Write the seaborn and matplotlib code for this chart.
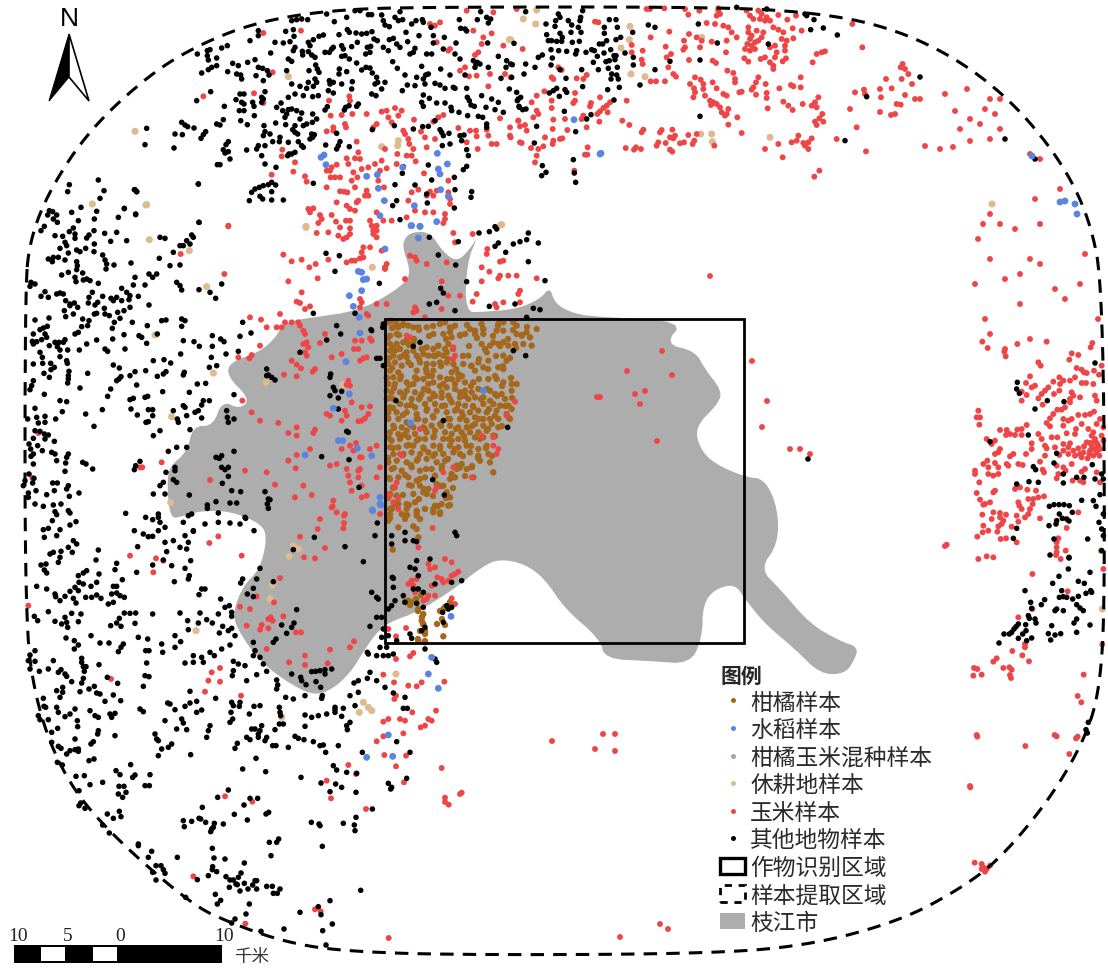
import matplotlib
matplotlib.use("Agg")
import matplotlib.pyplot as plt
import seaborn as sns
import pandas as pd
from matplotlib.lines import Line2D
from matplotlib.patches import Patch, Polygon, Rectangle

# ---- sample readings, grouped by map sheet; each sheet has its own origin (x0, y0) and is read at 3 units per map unit
SHEET_NW = (120, 0)
black_nw = [(515,65),(530,62),(545,60),(563,62),(620,45),(643,68),(680,55),(705,35),(720,35),(745,47),(755,47),(785,48),(790,65),(795,78),(808,83),(825,55),(835,65),(840,38),(848,62),(875,75),(888,65),(907,62),(910,70),(933,85),(1018,62),(1022,88),(1035,90),(1040,96),(1072,62),(1082,38),(1100,55),(1112,60),(1105,72),
(390,125),(415,95),(415,110),(497,97),(520,92),(522,112),(465,130),(490,132),(510,128),(525,145),(520,155),(547,157),(548,168),(565,130),(580,122),(597,112),(610,108),(657,107),(682,92),(688,100),(708,102),(725,105),(740,103),(756,98),(762,120),(772,125),(808,122),(820,118),(858,100),(863,128),(897,110),(940,110),(940,132),(973,115),(1008,132),(1103,132),
(232,165),(262,155),(270,152),(262,170),(265,183),(290,177),(305,147),(322,140),(452,162),(505,180),(515,187),(570,140),(565,158),(575,168),(585,175),(615,160),(628,160),(635,150),(640,145),(665,140),(670,150),(675,170),(695,143),(712,130),(742,145),(752,142),(737,165),(750,160),(790,145),(805,155),(830,135),(840,145),(885,148),(880,160),(870,165),(920,165),(935,165),(970,150),(1005,165),(1020,180),
(245,222),(265,212),(275,205),(290,200),(323,218),(338,193),(355,200),(350,225),(362,228),(365,240),(383,190),(405,182),(415,205),(428,208),(408,230),(442,215),(447,228),(430,245),(500,215),(567,215),(587,198),(592,210),(597,220),(658,210),(657,225),(680,218),(710,192),(725,213),(738,205),(750,207),(757,222),(770,235),(773,250),(795,250),(765,255),(785,270),(688,180),(665,172),(818,188),(832,208),(855,228),(905,202),(890,235),(910,240),(917,228),(925,225),(915,255),(962,210),(945,253),(960,258),(975,268),(990,228),(1000,265),(1005,268),(1035,228),(1040,268),(1060,185),(1068,195),(1072,190),(1065,205),(1080,195),(1105,205),(1135,172),(1160,185),(1158,205),(1172,195),(1143,238),(1168,270),(1195,300),
(272,278),(230,305),(313,322),(348,302),(360,285),(372,285),(365,310),(372,315),(358,335),(372,335),(398,310),(402,322),(403,350),(425,295),(435,278),(430,300),(425,310),(505,295),(483,312),(525,285),(540,262),(560,268),(565,250),(585,240),(590,250),(515,255),(580,262),(628,245),(630,255),(640,250),(665,255),(697,248),(695,270),(625,275),(640,282),(550,290),(578,293),(595,290),(755,285),(768,290),(847,275),(862,258),(885,260),(910,288),(928,298),(905,310),(910,322),(950,312),(975,312),(993,325),(995,335),(1017,340),(1042,295),(1048,305),(1053,318),(1063,322),(1085,290),(1098,325),(1115,300),(1135,310),(1125,332),(1150,340),(1197,322),(1043,350),(1075,352),(1088,355),
(470,325),(488,335),(505,332),(515,330),(530,335),(545,342),(500,345),(495,355),(540,360),(578,345),(590,360),(577,370),(615,333),(622,323),(677,325),(687,320),(673,333),(715,315),(710,322),(310,362),(300,378),(290,375),(185,370),(195,378),(203,383),(222,387),(80,388),(165,405),(187,407),(257,398),(250,407),(243,418),(75,437),(162,447),(362,365),(382,377),(432,380),(467,372),(497,377),(525,380),(550,380),(560,375),(518,392),(525,400),(533,405),(435,398),(450,405),(430,410),(575,405),(583,407),(570,420),(578,415),(650,403),(660,428),(655,440),(650,450),(617,438),(688,443),(757,392),(823,380),(880,390),(908,383),(925,382),(945,365),(960,392),(965,400),(970,410),(987,403),(1020,410),(1025,425),(1032,408),(1100,375),(1100,385),
(325,428),(318,437),(310,452),(325,458),(315,462),(330,480),(380,453),(410,450),(415,440),(435,440),(425,470),(458,428),(480,415),(478,428),(505,430),(507,465),(515,465),(503,470),(535,428),(550,445),(545,440),(525,460),(967,440),(990,435),(1040,452),(1045,470),(1040,502),(1030,512),(925,498),(847,523),(850,503),(1003,535),
(292,497),(300,497),(435,495),(468,505),(235,555),(405,570),(418,565),(430,560),(445,557),(455,550),(467,558),(455,578),(395,580),(420,592),(428,600),(455,603),(490,603),(388,605),(580,553),(935,543),(885,558),(1005,572),(1055,578),(1053,595),(825,557),(830,605),(818,620),(922,612),(920,585),(1003,627),(45,572),(50,578),(13,629),(47,647),(237,670),(840,662),(1125,683)]
red_nw = [(430,102),(543,95),(250,292),(402,283),(458,220),(430,312),(627,305),(688,292),(690,305),(930,75),(945,80),(960,70),(1040,35),(1120,40),(1060,95),(1090,115),(1115,103),(1085,135),(1150,140),(1075,160),(1065,168),(990,150),(985,155),(950,130),(1035,205),(1020,215),(1047,232),(1070,230),(1105,262),(1110,225),(1155,225),(1172,235),
(632,350),(665,348),(697,345),(740,345),(785,338),(800,335),(825,327),(845,335),(805,355),(815,370),(835,350),(770,375),(760,385),(850,395),(882,362),(940,368),(955,355),(970,348),(1015,387),(1050,395),(1068,395),(1100,392),(1140,358),(1170,385),(1195,365),(1070,412),(1105,410),(1115,435),(1130,435),(1170,410),(1040,430),(1073,450),(1200,430),
(640,385),(640,395),(620,397),(675,375),(678,385),(903,398),(915,415),(945,420),(920,445),(855,405),(865,420),(868,435),(880,450),(875,470),(860,470),(832,465),(795,450),(710,428),(715,460),(705,478),(720,480),(680,478),(685,495),(650,497),(635,505),(630,515),(620,515),(785,485),(765,495),(830,495),(887,487),(800,508),(780,515),(745,505),(725,510),(700,520),(712,535),(695,545),(660,535),(632,535),(645,535),(620,565),(705,565),(672,578),(660,577),(682,580),(740,575),(745,590),(735,590),(792,565),(775,545),(912,523),(985,545),(985,580),(930,578),(940,590),(920,590),(950,575),(895,572),(875,580),(865,605),(990,600),(990,615),
(520,518),(455,527),(525,490),(487,452),(485,472),(555,532),(560,548),(580,628),(565,630),(570,640),(600,648),(605,660),(595,672),(635,648),(648,668),(678,665),(690,665),(650,610),(710,610),(715,605),(680,620),(690,630),(705,635),(750,665),(755,680),(770,640),(790,665),(815,665),(860,655),(885,635),(915,640),(975,645),(975,660),(970,672),(940,640),(325,680),(660,685),(690,688),(760,685),(770,680)]
blue_nw = [(603,475),(612,468),(618,497),(740,532),(772,527),(775,568),(793,605),(848,505),(952,463),(982,495),(955,510),(960,525),(962,572),(985,592),(883,620),(780,650),(875,680),(900,682),(950,668)]
tan_nw = [(45,397),(80,617),(505,233),(785,443),(835,425),(833,440),(1168,122),(558,682),(1145,677)]

SHEET_N = (510, 0)
black_n = [(47,38),(145,45),(150,55),(137,65),(135,82),(108,75),(175,65),(185,78),(212,55),(218,35),(210,65),(205,85),(213,100),(298,62),(318,62),(283,85),(283,103),(322,85),(332,115),(368,100),(415,78),(435,85),(565,75),(622,132),(770,30),(680,25),(775,135),(885,45),(890,50),(912,62),(940,87),(902,92),(982,108),
(110,107),(150,103),(183,100),(115,125),(125,125),(140,127),(157,115),(155,127),(187,130),(208,127),(12,133),(290,125),(278,135),(268,135),(318,122),
(123,152),(146,155),(170,157),(200,155),(197,165),(85,175),(97,168),(127,177),(228,160),(245,152),(253,155),(262,172),(282,162),(302,152),(312,170),(318,170),(315,182),(345,162),(370,175),(250,190),(288,188),(298,185),(370,198),(480,187),(570,183),(435,212),
(7,197),(47,195),(75,205),(123,198),(150,212),(215,212),(265,212),(295,208),(322,205),(305,225),(303,240),(320,228),(325,240),(5,235),(42,225),(168,238),(218,263),(293,272),(328,265),(390,258),
(140,268),(130,275),(118,282),(165,272),(170,280),(148,292),(20,280),(32,295),(22,305),(28,325),(38,332),(48,330),(312,303),(163,337),(230,360),(243,347),(80,382),(197,398),(73,432),(190,482),(97,500),(108,520),(95,530),(193,522),(197,550),(570,352),(1070,293),(1005,425)]
red_n = [(20,30),(420,30),(410,30),(463,28),(525,30),(535,47),(568,35),(625,35),(630,45),(620,50),(625,28),(710,35),(720,50),(745,35),(755,45),(770,55),(765,65),(750,60),(730,60),(805,48),(832,62),(858,50),(780,65),(790,85),(805,92),(820,100),(848,88),(875,95),(850,118),(830,125),(815,120),(1027,75),(265,70),(255,68),
(590,72),(615,75),(640,80),(655,85),(665,100),(478,98),(537,105),(560,115),(422,115),(522,125),(575,125),(605,128),(650,125),(680,115),(570,145),(525,145),(520,152),(467,143),(398,155),(365,138),(365,160),(648,160),(715,85),(715,100),(725,110),(740,95),(760,100),(720,120),(735,130),(745,125),(755,115),(712,135),(705,150),(720,155),(735,150),(725,140),(780,145),(795,140),(800,160),(795,175),(825,140),(825,155),(765,175),(780,190),(752,180),(703,178),(715,188),(790,200),(790,210),(828,178),(818,187),(920,165),(935,160),(945,157),(908,190),(1057,145),(1178,195),(1172,205),
(395,182),(398,195),(483,165),(470,175),(475,205),(537,183),(608,185),(618,192),(490,225),(498,233),(422,247),(438,247),(465,247),(555,235),(572,242),(580,255),(540,255),(552,268),(555,280),(550,295),(580,270),(585,290),(608,250),(620,268),(640,285),(650,290),(652,215),(670,222),(675,240),(675,250),(688,280),(695,278),(745,235),(738,250),(730,265),(725,272),(767,255),(770,282),(770,297),(738,287),(808,268),(843,258),(850,262),(872,235),(872,265),(1128,240),(1175,240),(1195,225),(1145,268),(1035,280),(1062,272),(1113,295),(1185,288),(925,295),(915,310),(905,320),(920,325),(878,315),(820,308),(835,320),(848,333),(773,328),(1020,330),(1160,315),(1172,317),(1143,348),(937,345),(928,358),(915,368),(920,378),(940,368),(1040,385),(600,305),(610,310),(620,315),(630,325),(603,318),(635,340),(645,350),(655,330),(650,345),(682,355),(655,377),(695,402),(395,400),(400,392),(455,393),(450,400),(487,392),(480,415),(495,410),(490,418),(535,408),(560,405),(445,430),(440,440),(467,432),(510,433),(522,430),(553,425),(548,435),(613,440),(480,452),(487,458),(347,447),(372,452),(378,445),(393,450),(880,432),(885,440),(895,450),(905,418),(895,430),(865,410),(860,425),(845,430),(805,435),(765,450),(818,475),(980,420),(1068,457),(928,515),(913,533),(337,365),(358,378),
(38,150),(145,205),(155,213),(125,235),(130,240),(230,228),(220,240),(200,238),(103,277),(80,290),(65,310),(195,282),(125,305),(125,327),(80,335),(85,345),(70,355),(25,365),(30,382),(45,378),(50,395),(130,362),(128,390),(165,360),(172,393),(2,415),(35,432),(105,415),(130,425),(128,435),(150,420),(157,418),(100,442),(85,450),(63,447),(80,470),(75,490),(233,445),(225,467),(232,467),(193,515),(190,312),(195,305),(215,360),(220,350),(230,385),(268,368),(293,340),
(243,312),(240,322),(270,295),(350,305),(300,310),(290,320),(280,327),(270,337),(262,345)]
blue_n = [(192,362),(273,463)]
tan_n = [(80,33),(40,60),(77,75),(360,82),(358,122),(333,147),(363,225),(405,233),(575,115),(572,405),(605,405),(607,428),(780,415),(2,122)]

SHEET_MID = (150, 220)
black_mid = [(147,10),(30,55),(45,58),(125,48),(130,55),(110,65),(120,75),(90,80),(100,80),(70,100),(28,118),(60,140),(90,138),(20,165),(8,175),(80,190),(90,200),(95,213),(147,212),(180,220),(197,238),(215,195),
(35,305),(48,303),(95,300),(105,305),(95,322),(22,345),(270,352),(303,342),(278,310),(187,350),(212,360),(222,368),(100,365),(132,368),(148,382),(187,382),(228,405),(265,397),(92,405),(184,415),(42,422),(10,425),(62,432),(178,445),(200,440),(48,458),(103,460),(100,468),(40,465),(22,472),(142,495),(167,493),(38,518),(118,520),(252,527),(160,545),(178,545),(155,558),(105,565),(100,560),(70,575),(145,575),(135,580),(8,572),(8,590),(110,590),(155,597),(230,575),(232,595),(235,610),(252,600),(82,600),(85,610),(120,632),(30,635),(10,650),(80,685),(110,685),(55,697),(252,697),
(215,710),(198,715),(208,718),(215,745),(235,745),(225,752),(235,772),(217,793),(245,815),(272,818),(75,745),(75,755),(48,760),(70,782),(80,790),(40,790),(30,800),(10,825),(45,825),(118,828),(345,818),(355,840),(360,842),(352,855),(355,868),(198,848),(172,858),(172,868),(240,852),(260,852),(125,885),(115,890),(205,882),(285,895),(25,885),
(528,103),(568,110),(555,157),(688,193),(838,55),(865,108),(917,138),(950,188),(872,208),(880,222),(838,255),(860,250),(915,275),(1018,262),(987,42),(1018,38),(1040,30),(925,68),(1045,72),(1035,82),(1067,100),(1090,75),(1110,68),(1130,62),(1135,42),(1165,72),(1185,185),(1135,128),(1095,255),(1150,268),(1170,272),(1130,295),
(490,283),(615,283),(560,320),(572,345),(530,363),(450,400),(350,450),(355,468),(365,475),(375,483),(350,470),(665,335),(663,332),(700,315),(698,325),(680,418),(690,418),(700,440),(542,465),(540,475),(550,505),(555,515),(575,517),(540,530),(565,537),(565,570),(590,637),(595,640),(515,713),(597,722),(627,805),
(810,370),(790,382),(1090,395),(1127,410),(1073,625),(880,605),(848,782),(883,828),(738,545)]
red_mid = [(235,22),(500,42),(535,40),(565,50),(600,45),(580,60),(590,55),(670,35),(680,35),(670,45),(680,55),(640,85),(660,85),(635,100),(630,118),(695,95),(640,115),(605,125),(590,130),(615,125),(710,135),(705,150),(400,107),(425,127),(455,122),(535,122),(497,135),(223,165),(503,178),(415,187),(478,145),(455,220),(440,248),(450,252),(465,270),(480,262),(300,295),(333,302),(390,285),(350,325),(380,325),(395,325),(405,310),(425,310),(445,310),(450,320),(460,335),(465,345),(470,370),(460,375),(475,385),(465,400),(470,410),(330,380),(305,408),(298,418),(265,415),(525,345),(510,372),(425,425),(440,437),(453,448),(495,450),(488,458),(402,467),(440,472),(545,415),(575,405),(630,425),(640,418),(650,415),(615,365),(635,365),(625,390),(612,390),(660,358),(665,365),(650,285),(655,290),(710,255),(680,255),(795,265),(800,275),(790,280),(825,295),(875,270),(930,230),(895,230),(875,187),(765,180),(705,145),(630,240),(635,250),(630,265),(780,110),(795,115),(800,125),(830,135),(890,130),(910,42),(915,70),(968,45),(92,105),
(1012,90),(1060,125),(1050,170),(1045,178),(1018,158),(995,145),(1050,128),(1075,170),(1100,170),(1110,215),(1105,225),(1160,178),(995,187),(980,225),(968,248),(1060,250),(1035,255),(1110,250),(1040,265),(1010,105),
(595,485),(590,497),(600,500),(605,550),(585,575),(590,590),(635,565),(660,562),(655,585),(530,585),(540,590),(575,605),(625,607),(635,605),(645,598),(305,580),(277,545),(330,605),(385,612),(415,642),(440,625),(440,650),(495,632),(490,642),(618,672),(600,680),(610,695),(630,715),(635,715),(575,690),(540,740),(560,735),(590,750),(595,770),(600,790),(630,750),(625,755),(625,775),(680,775),(690,745),(660,690),(680,680),(635,800),(605,815),(635,835),(650,830),(550,845),(545,865),(585,885),(485,828),(435,835),(460,800),(375,797),(350,760),(285,755),(180,783),(415,725),(440,708),(480,690),(437,748),(35,730),(710,825),(720,830),(690,885),(740,790),(735,805),(750,705),(755,710),(810,630),(910,385),(915,410),(910,420),(1095,548),(1030,680),(1045,690),(1040,705),(995,650),(1070,590),(770,350),(780,355),(745,840),(730,850),(745,870),(860,805),(855,815),(880,760),(910,745),(965,775),(1030,655)]
blue_mid = [(625,157),(635,160),(640,182),(650,180),(635,215),(598,230),(610,262),(628,295),(630,342),(588,428),(598,525),(550,568),(565,665),(578,665),(622,688),(465,708),(665,710),(690,835),(693,858),(667,873),(705,90),(783,20),(810,22),(805,57),(782,612),(1000,515)]
tan_mid = [(468,25),(118,95),(667,145),(170,203),(190,462),(348,490),(577,497),(65,593),(62,850),(15,348),(1052,18)]
brown_mid = [(715,310),(725,305),(740,315),(730,325),(745,325),(760,315),(775,320),(790,325),(805,325),(830,325),(870,315),(885,310),(900,325),(915,320),(960,330),(975,335),(995,315),(1000,330),(1045,315),(1060,310),(1090,310),(1100,320),(1160,330),(1060,335),(1040,335),
(720,350),(740,345),(770,365),(790,370),(760,370),(740,375),(720,375),(850,345),(880,345),(900,340),(905,355),(930,350),(945,345),(975,345),(1000,345),(1030,370),(1045,375),(1060,370),(1100,345),(1115,350),(1130,340),(1140,355),(1120,375),(1145,380),(1095,375),(1075,380),(995,375),(1020,380),
(720,395),(735,395),(750,390),(770,400),(790,395),(815,390),(830,385),(850,390),(865,380),(885,390),(895,375),(730,410),(750,415),(770,415),(800,410),(820,405),(835,410),(850,410),(865,405),(880,410),(890,400),(955,410),(1010,400),(1060,410),(1070,425),
(715,435),(735,430),(755,440),(775,430),(810,430),(830,435),(850,435),(870,430),(890,430),(910,435),(940,435),(965,440),(985,430),(1015,425),(1045,445),(1060,450),(720,455),(745,460),(800,455),(830,460),(850,455),(905,460),(925,465),(975,455),(1000,445),
(710,475),(730,475),(750,480),(770,490),(795,475),(820,480),(835,470),(850,490),(870,475),(905,480),(925,480),(945,490),(970,490),(1015,480),(1040,480),(1060,490),(1100,495),(1085,495),(715,495),(735,495),(790,495),(835,495),(880,495),(890,505),(915,495),
(710,515),(725,520),(750,520),(770,515),(795,520),(815,525),(835,515),(850,525),(875,520),(930,520),(945,515),(965,520),(985,510),(1020,515),(1035,525),(1055,525),(1085,515),(710,540),(730,540),(760,535),(785,540),(810,535),(840,540),(875,535),(895,530),(930,535),(955,540),(975,535),(1000,535),(1020,545),(1065,540),
(720,565),(750,555),(770,560),(795,565),(825,555),(855,555),(885,560),(905,550),(925,555),(945,560),(970,565),(1000,555),(1030,555),(1050,560),(1075,560),(715,580),(740,580),(770,580),(800,585),(830,575),(860,575),(890,580),(915,575),(935,580),(960,580),(985,575),(1010,580),(1040,575),(1085,570),(1070,585),
(715,600),(745,600),(770,610),(800,600),(825,605),(850,595),(870,615),(900,600),(930,600),(950,605),(975,595),(1000,600),(1020,600),(1045,600),(1080,600),(730,620),(755,625),(790,625),(820,625),(845,620),(900,620),(925,625),(950,625),(975,615),(1000,620),(1025,615),(1045,625),
(720,640),(745,645),(770,635),(795,645),(830,640),(855,635),(885,640),(905,645),(935,640),(960,640),(985,640),(1010,635),(725,665),(750,660),(775,655),(800,665),(825,660),(850,655),(880,660),(905,665),(925,660),(945,665),(975,655),(1000,655),(1030,650),
(720,685),(745,685),(770,680),(790,680),(820,685),(850,680),(870,690),(900,680),(925,685),(950,680),(985,690),(1010,680),(730,705),(760,705),(785,700),(810,705),(835,700),(855,705),(880,705),(910,700),(930,705),(960,700),(985,710),(1015,705),
(715,730),(740,725),(770,730),(800,725),(830,720),(860,730),(885,725),(920,740),(935,735),(965,745),(990,725),(1020,730),(725,750),(755,755),(785,745),(810,755),(845,750),(875,750),(905,765),(930,745),(950,750),(1030,760),
(720,780),(745,775),(775,775),(800,785),(825,775),(855,770),(915,775),(970,775),(730,805),(785,800),(810,800),(835,810),(860,795),(880,800),
(720,825),(740,830),(790,825),(820,820),(830,825),(890,820),(900,835),(735,855),(725,870),(770,855),(795,850),(855,860),(875,855),(895,860),(720,885),(800,875),(850,880),(870,885),(800,890),(755,885)]

SHEET_S = (150, 500)
black_s = [(8,62),(25,55),(30,70),(45,85),(25,95),(8,112),(45,130),(70,125),(100,70),(130,95),(105,110),(115,130),(90,145),(110,150),(122,185),(65,200),(50,158),(40,183),(105,208),(118,230),(115,240),(73,248),(8,198),(205,70),(240,72),(270,75),(287,58),(312,95),(165,75),(130,97),
(330,208),(320,240),(370,248),(278,240),(272,252),(310,268),(292,285),(310,293),(155,270),(165,270),(147,287),(212,300),(225,325),(238,320),(245,340),(245,352),(205,345),(150,342),(90,342),(8,345),(113,365),(145,372),(170,362),(187,372),(218,382),(245,388),(235,395),(255,410),(208,402),(115,392),(75,410),(92,428),(35,435),(38,460),(75,445),(130,470),(155,475),(180,460),(193,470),(160,490),(130,490),(105,492),(215,450),(240,438),(310,430),(315,455),(310,470),(250,487),(265,495),(285,500),(330,475),(340,495),(350,517),(250,515),(247,530),(290,545),(320,527),(380,543),(383,558),(380,570),(425,525),(452,535),(455,545),(468,557),(498,548),(512,565),(517,590),(515,598),(465,590),(430,600),(407,595),(485,518),(497,517),(510,515),(525,512),(545,510),(525,525),(370,430),(378,420),(395,378),(410,403),(432,372),(425,385),(440,332),(430,152),(493,115),(585,143),(640,188),(675,110),(682,72),(665,280),(680,295),(685,300),(680,355),(695,355),(660,382),(700,390),(695,415),(725,110),(727,235),(730,238),(730,265),(735,305),(725,320),(715,330),(725,135),(765,100),(765,125),(790,125),(800,128),(780,205),(795,210),(800,185),(805,230),(840,180),(790,270),(805,270),(820,280),(855,255),(800,313),(820,325),(765,310),(905,250),(935,245),(915,100),(920,110),(760,290),
(890,320),(895,330),(878,340),(905,325),(880,370),(825,385),(815,395),(780,405),(785,418),(740,425),(715,410),(825,450),(855,480),(860,490),(730,465),(715,470),(700,470),(680,470),(690,445),(710,445),(652,460),(655,465),(660,520),(680,545),(652,538),(625,545),(612,552),(600,590),(625,580),(555,625),(580,628),(555,640),(615,620),(465,648),(485,655),(505,650),(530,645),(555,632),(575,652),(590,680),(600,670),(592,692),(465,682),(705,565),(730,582),(765,595),(760,628),(772,628),(740,728),(637,760),(780,760),
(53,612),(75,632),(60,615),(105,622),(120,577),(120,612),(140,607),(155,633),(140,640),(197,598),(245,610),(250,620),(270,610),(268,622),(243,640),(248,660),(240,670),(330,620),(312,622),(298,645),(388,625),(390,640),(392,650),(400,675),(388,675),(375,692),(335,680),(330,695),(315,690),(305,690),(290,715),(300,722),(325,705),(325,715),(345,725),(350,715),(368,740),(378,740),(262,733),(255,748),(415,745),(435,712),(445,718),(462,722),(490,728),(510,740),(520,738),(565,740),(527,760),(180,680),(175,695),(170,715),(122,767),
(95,660),(100,672),(45,665),(15,705),(20,720),(25,725),(65,735),(55,745),(35,750),(25,770),(110,692),(80,690)]
red_s = [(548,22),(560,40),(582,50),(510,60),(582,72),(580,88),(503,90),(450,113),(525,147),(495,178),(462,175),(275,170),(205,112),(178,132),(18,178),(40,185),(10,220),(390,237),(320,292),(270,323),(300,330),(362,355),(368,365),(355,360),(400,352),(335,378),(330,392),(290,380),(355,388),(438,400),(453,400),(372,310),(350,450),(612,427),(600,445),(540,452),(465,470),(417,490),(465,498),(533,493),
(848,87),(805,145),(885,180),(905,190),(835,195),(855,205),(840,210),(862,235),(875,240),(880,250),(895,245),(915,225),(925,218),(905,230),(845,260),(800,240),(785,245),(775,255),(790,260),(800,270),(795,280),(835,290),(830,300),(820,305),(855,290),(905,298),(915,315),(768,387),(715,390),(738,412),(790,462),(780,472),(738,480),(700,527),(732,550),(738,590),(733,600),(775,560),(800,562),(815,550),(883,548),(787,640),(858,635),(700,668),(715,660),(750,660),(765,665),(835,660),(845,665),(812,685),(825,680),(760,703),(700,712),(680,727),(273,590),(185,520),(210,507),(175,545),(210,548),(165,578)]
blue_s = [(845,475),(835,525),(865,568),(903,352),(715,708),(650,775),(728,772),(668,35),(690,15)]
brown_s = [(720,30),(745,15),(770,30),(800,40),(870,40),(850,30),(900,18),(715,65),(765,60),(745,85),(800,90),(790,82),(805,115),(728,152),(775,305),(785,310),(805,330),(820,345),(815,365),(820,375),(825,395),(805,425),(825,430),(880,412),(880,330),(895,320)]
tan_s = [(430,140),(445,150),(417,172),(360,300),(367,258),(138,395),(738,525),(640,610),(655,625),(665,635),(628,640),(395,655)]

SHEET_W = (15, 180)
black_w = [(163,17),(158,38),(250,3),(267,35),(255,58),(358,32),(365,38),(550,15),(170,100),(198,85),(245,97),(238,120),(328,88),(362,105),(310,115),(103,95),(98,108),(113,98),(125,108),(115,120),(127,130),(190,125),
(88,142),(78,155),(175,147),(180,165),(163,158),(143,172),(180,178),(120,170),(237,155),(222,168),(215,177),(269,163),(305,160),(287,187),(335,185),(150,190),(155,200),(135,208),(238,195),(212,208),(185,213),(195,218),(237,218),(160,222),(263,228),(270,243),(150,243),(130,235),(115,235),(100,240),(112,248),(185,248),(187,260),(275,255),(273,270),(297,258),(348,252),(185,272),(203,282),(160,280),(140,288),(180,295),(183,308),(205,303),(215,300),(225,305),(250,313),(48,310),(60,315),(45,322),(360,295),(355,318),(402,285),(390,318),
(90,338),(78,352),(100,355),(125,345),(135,342),(145,345),(152,365),(165,375),(178,372),(165,380),(188,385),(232,340),(222,355),(220,372),(248,370),(240,378),(263,352),(288,358),(305,355),(295,365),(320,328),(335,340),(345,350),(342,362),(320,365),(370,352),(345,385),(245,403),(238,405),(268,388),(270,405),(283,410),(308,400),(327,395),(148,395),(152,413),(175,405),(315,418),(298,430),(402,378),(352,430),
(60,423),(102,417),(203,420),(222,425),(218,440),(200,443),(97,442),(85,447),(75,452),(55,465),(90,465),(95,475),(80,482),(65,488),(52,487),(55,495),(190,460),(180,465),(292,448),(327,467),(372,470),(380,475),(397,440),(293,480),(245,483),(215,495),(150,482),(145,490),(132,490),(120,490),(127,503),(103,500),(135,513),(158,513),(193,513),(270,510),(278,517),(330,510),(395,493),
(75,520),(82,535),(135,533),(155,545),(157,553),(55,555),(83,553),(107,553),(118,565),(108,572),(87,583),(103,595),(162,577),(160,590),(160,600),(158,612),(218,583),(295,558),(313,567),(318,593),(312,600),(305,605),(345,590),(360,578),(392,575),(365,618),(195,627),(287,630),(278,652),(55,605),(50,620),(45,632),(88,646),
(135,665),(155,668),(345,662),(355,658),(390,655),(398,652),(142,698),(60,688),(212,705),(262,692),(348,690),(367,708),(400,692),(122,720),(65,715),(90,712),(70,732),(90,730),(38,720),(400,728),(393,730),(237,742),
(60,755),(75,757),(88,765),(100,768),(90,780),(55,778),(118,787),(42,795),(47,810),(68,800),(82,815),(110,820),(120,825),(55,825),(48,832),(160,825),(155,835),(125,845),(152,852),(55,855),(203,850),(213,855),(233,870),(150,877),(362,860),(358,872),(375,847),(42,885),(57,898),(30,905),(25,920),(53,912),(113,912),(127,912),(160,920),(155,930),(63,935),(118,935),(40,942),(95,947),(163,952),(192,942),(40,955)]
red_w = [(70,762),(52,897),(375,865),(382,865)]
tan_w = [(232,75),(393,78),(403,182)]

SHEET_SW = (15, 500)
black_sw = [(60,15),(85,22),(115,18),(138,15),(120,38),(125,47),(160,35),(165,42),(332,43),(112,65),(100,88),(85,92),(88,115),(125,110),(135,92),(165,78),(183,68),(175,125),(185,135),(160,145),(392,55),(358,95),(385,105),(400,113),(368,143),(250,153),(243,183),(138,157),(172,160),(115,160),(105,165),(130,190),(135,175),(78,198),(93,195),(88,213),(95,222),(305,193),(300,212),(365,220),(215,215),(205,222),(190,230),(252,225),(245,250),(192,250),(205,255),(228,262),(322,242),(65,262),(95,270),(180,265),(190,275),(165,277),(150,292),(120,285),(122,293),(135,305),(175,298),(183,312),(212,295),(230,295),(245,288),(258,298),(295,262),(305,262),(290,285),(305,282),(315,290),(328,295),(280,315),(295,310),
(100,338),(170,343),(198,345),(58,352),(68,365),(120,367),(150,355),(155,370),(140,375),(158,385),(190,368),(313,358),(328,342),(345,343),(362,342),(360,373),(305,372),(318,382),(287,380),(153,417),(228,410),(178,425),(190,438),(178,450),(255,432),(282,432),(325,435),(318,445),(310,458),(370,415),(398,420),(60,455),(45,468),(40,485),(60,487),(115,485),(200,478),(200,490),(205,503),(213,503),(208,517),(252,497),(45,510),(73,517),(100,510),(138,512),(130,520),(150,525),(155,532),(392,455),(402,455),(395,492),(390,530),(402,533),(385,562),
(170,548),(205,538),(200,552),(277,535),(308,553),(238,562),(222,570),(143,565),(125,575),(143,580),(195,578),(135,595),(245,582),(255,585),(295,588),(270,607),(317,605),(85,598),(87,622),(92,625),(125,625),(130,640),(180,630),(165,645),(150,653),(225,635),(240,650),(250,655),(285,645),(300,643),(290,655),(375,630),(385,638),(70,650),(75,662),(100,662),(128,688),(110,700),(187,665),(188,683),(250,695),(248,705),(300,710),(235,728),(228,735),(180,720),(110,730),(130,742),(138,748),(155,765),(165,755),(180,752),(190,750),(190,757),(127,790),(142,798),(222,785),(237,780),(183,832),(208,830),(225,857),(192,875),(197,912),(192,920),(210,928)]
red_sw = [(40,320),(345,170),(288,540)]

SHEET_SOUTH = (100, 740)
black_south = [(92,77),(48,95),(60,107),(105,108),(98,115),(150,107),(8,130),(57,142),(72,142),(78,160),(55,165),(68,175),(135,140),(148,140),(22,225),(58,217),(63,233),(40,238),(8,258),(28,282),(115,315),(115,320),(155,337),(145,355),(232,355),(158,400),(168,380),(183,380),(190,392),(195,403),(168,423),
(428,90),(497,98),(468,58),(603,115),(663,132),(707,135),(725,145),(690,158),(768,160),(740,100),(770,103),(710,93),(700,80),(865,133),(875,145),(872,150),(920,118),(385,153),(353,175),(450,178),(473,178),(432,198),(307,205),(403,226),(442,243),(498,225),(506,220),(250,245),(253,263),(275,247),(297,238),(302,240),(317,250),(343,253),(340,265),(335,270),(332,278),(370,255),(634,250),(657,255),(660,260),(730,253),(768,235),(763,258),(765,275),(817,210),(508,310),(530,310),(536,300),(667,322),(513,350),(337,328),(342,357),(375,360),(433,372),(338,383),(337,392),(350,398),(325,410),(292,422),(378,413),(390,423),(400,423),(423,402),(415,415),(408,435),(412,437),(433,433),(465,425),(470,425),(458,438),(444,450),(420,456),(470,450),(388,445),(500,442),(517,442),(540,450),(532,463),(520,463),(782,454),(346,466),(362,484),(352,495),(257,475),(448,495),(438,525),(405,540),(395,552),(690,485),(655,503),(600,520),(663,527),(697,555),(552,570),(668,575),(483,577),(678,618)]
red_south = [(745,78),(768,105),(680,125),(693,178),(798,210),(853,48),(888,82),(912,130),(918,50),(1025,87),(1035,176),(1085,161),(1046,197),(375,172),(457,188),(280,412),(645,511),(662,517),(436,554),(866,597)]

SHEET_E = (900, 340)
black_e = [(585,72),(352,130),(350,150),(358,163),(442,185),(492,188),(405,210),(270,308),(385,288),(470,343),(462,372),(400,383),(407,392),(577,377),(490,405),(605,405),(610,420),(530,415),(552,415),(585,420),(350,435),(387,428),(415,430),(490,432),(600,467),(545,484),(580,485),(588,502),(448,502),(462,497),(477,497),(492,497),(508,500),(478,525),(517,520),(470,545),(468,555),(487,538),(500,540),(507,546),(447,560),(350,568),(610,525),(597,550),(605,570),(610,590),(340,598),(462,600),(563,600),(450,648),(507,655),(605,635)]
red_e = [(247,8),(263,27),(352,15),(440,8),(313,38),(317,52),(515,43),(535,48),(508,62),(577,12),(572,25),(415,70),(422,80),(530,87),(545,92),(552,100),(560,102),(582,95),(597,107),(605,80),(390,112),(378,132),(405,140),(395,145),(478,115),(490,125),(480,135),(510,125),(525,115),(545,132),(558,132),(580,135),(460,128),(445,145),(435,155),(462,165),(478,155),(425,165),(415,178),(365,158),(380,168),(365,185),(515,160),(520,170),(510,180),(540,175),(585,170),(590,185),(428,197),(510,190),(495,205),(485,212),(472,212),(235,215),(230,235),(240,235),(238,257),(460,225),(450,238),(535,228),(555,228),(570,225),(582,218),(490,240),(515,240),(505,245),(440,252),(450,262),(490,260),(545,255),(600,240),(590,255),(610,265),(300,273),(320,273),(330,285),(318,288),(345,288),(352,272),(365,270),(380,258),(365,288),(415,285),(528,270),(500,283),(525,285),(565,270),(580,280),(605,290),(260,300),(285,305),(275,315),(425,300),(455,295),(472,295),(395,313),(395,330),(435,320),(440,328),(490,315),(510,313),(465,325),(585,300),(575,320),(595,320),(610,305),(300,330),(295,340),(285,345),(378,345),(435,350),(490,335),(520,335),(535,328),(550,340),(570,335),(590,340),(580,350),(340,345),(330,352),(320,375),(262,365),(250,375),(285,372),(265,385),(295,385),(325,380),(355,375),(368,378),(420,368),(428,392),(432,400),(515,375),(545,355),(563,358),(470,380),(490,385),(497,395),(225,395),(225,405),(265,405),(280,410),(295,405),(475,405),(470,418),(545,398),(555,390),(540,425),(550,430),(518,425),(590,400),(600,430),(238,430),(345,450),(360,445),(285,455),(280,460),(382,452),(408,455),(230,462),(240,482),(255,495),(270,490),(250,497),(415,475),(432,472),(385,480),(400,480),(355,490),(358,500),(365,510),(398,495),(390,510),(247,527),(280,520),(300,522),(318,527),(275,540),(300,535),(310,545),(350,530),(375,535),(385,525),(420,538),(305,555),(250,560),(265,575),(248,580),(232,593),(295,562),(292,578),(335,563),(355,548),(302,600),(318,598),(350,610),(535,520),(500,567),(475,598),(470,625),(470,640),(497,635),(140,617),(260,652),(280,655),(235,660),(470,610),(468,648),(482,660),
(575,290),(583,305),(590,312),(570,312),(578,330),(588,328),(568,345),(600,330),(598,350),(560,310),(552,322),(540,345),(525,350),(505,345),(505,325),(478,348)]

SHEET_SE = (900, 540)
black_se = [(507,57),(505,90),(570,100),(477,112),(458,133),(535,127),(553,133),(375,155),(485,155),(558,163),(572,155),(575,160),(478,175),(490,173),(500,175),(518,180),(535,172),(434,182),(424,197),(392,190),(530,197),(540,207),(550,215),(395,208),(470,210),(465,215),(490,215),(385,230),(388,238),(405,240),(408,252),(530,240),(522,252),(377,257),(355,255),(348,263),(342,270),(335,280),(455,260),(570,258),(378,275),(368,285),(530,280),(445,284),(465,288),(482,284),(312,285),(328,285),(355,298),(380,305),(395,297),(452,303),(297,312),(565,550),(558,572),(562,582)]
red_se = [(397,105),(503,157),(355,235),(397,210),(375,315),(375,325),(607,316),(337,336),(367,349),(387,367),(290,358),(280,368),(222,387),(232,390),(245,407),(220,410),(310,387),(328,385),(335,392),(330,408),(333,417),(551,407),(533,471),(544,490),(230,588),(232,593),(464,588),(470,592),(528,598),(533,593),(376,621),(508,645),(211,745),(224,971),(245,975),(250,985),(260,990),(270,980),(255,998),(245,990),(610,90)]
tan_se = [(607,210),(603,35)]

# readings taken directly on the whole map
red_map = [(925,147),(940,150),(953,148),(960,130),(970,120),(985,110),(970,142),(980,125),(990,140),(1000,100),(990,100),(995,115),(865,95),(880,90),(905,70),(912,85),(915,100),(880,113),(895,115),(920,100),(945,95),(967,90),(955,112),(1000,130),(1040,160),(1060,190),(1030,155),
(990,215),(978,240),(983,225),(1000,225),(1015,230),(1040,225),(1030,260),(990,260),(1005,280),(975,285),(1020,275),(1040,265),(1085,255),(1055,290),(1080,285),(1020,305),(985,320),(1005,350),(990,335),(1030,340),(1065,300),(1098,320),(1035,200),
(710,277),(752,362),(767,402),(762,428),(597,398),(600,398),(627,372),(635,395),(640,405),(645,392),(657,442),(662,352),(672,376),(790,450),(800,450),(810,455),(945,547),
(552,742),(595,750),(603,735),(615,735),(615,752),(460,795),(445,803),(620,938),(660,925),(668,930),(970,787)]
black_map = [(920,78),(1005,140),(1035,160),(808,460)]
blue_map = [(1060,203),(1065,202),(1075,205),(1077,215),(1032,157),(600,155)]
tan_map = [(992,205)]
brown_map = [(392,329),(403,326),(419,331),(433,327),(451,329),(467,326),(483,330),(498,327),(513,331),(527,328),
(388,339),(399,336),(414,340),(429,337),(446,340),(460,336),(477,339),(493,337),(508,340),(522,336),
(393,349),(409,346),(423,350),(438,347),(453,350),(469,347),(485,350),(500,347),(516,349),
(389,359),(404,356),(419,360),(435,357),(448,360),(463,357),(479,360),(496,357),(510,359),
(392,369),(411,366),(426,370),(441,367),(456,370),(471,367),(488,370),(503,367),
(387,379),(401,377),(417,380),(432,377),(447,380),(462,377),(479,380),(495,377),(511,379),
(394,389),(409,386),(424,390),(440,387),(455,390),(471,387),(487,390),(502,387),
(389,399),(404,396),(419,400),(435,397),(450,400),(465,397),(481,400),(497,397),(512,399),
(393,409),(411,406),(427,410),(442,407),(457,410),(473,407),(489,410),(505,407),
(388,419),(403,416),(418,420),(433,417),(448,420),(463,417),(479,420),(495,417),(509,419),
(394,429),(410,426),(425,430),(441,427),(456,430),(472,427),(488,430),(502,427),
(389,439),(404,436),(419,440),(434,437),(449,440),(464,437),(480,440),(495,437),
(393,449),(409,446),(424,450),(440,447),(455,450),(471,447),(486,449),
(388,459),(403,456),(418,460),(433,457),(448,460),(463,457),(478,459),(492,457),
(394,469),(411,466),(426,470),(442,467),(457,470),(472,467),
(389,479),(405,476),(420,480),(435,477),(450,480),(465,477),
(393,489),(409,486),(424,490),(441,487),(453,489),
(388,499),(403,496),(419,500),(433,497),(446,499),
(392,509),(409,506),(425,510),(438,507),(390,519),(407,516),(420,520),
(405,603),(410,606),(418,612),(422,618),(423,625),(420,632),(425,635),(418,640),(425,642),(440,612),(445,608),(450,603),(442,620),(437,625),(445,626),(416,600),(421,596)]

# ---- outlines (readings of the map's polygons)
region_x = [404,412,430,443,457,470,478,467,465,483,517,540,550,555,575,600,684,665,695,705,722,718,695,700,715,745,765,778,778,760,780,810,840,858,855,845,820,795,765,745,735,715,703,702,690,650,605,600,565,545,525,500,483,450,417,390,377,363,353,337,317,293,260,237,233,243,260,267,262,230,200,183,170,167,170,187,193,213,222,240,250,227,230,260,277,283,323,350,377,407,410,403]
region_y = [240,233,233,253,263,250,237,263,313,313,310,300,288,305,315,318,322,345,352,370,392,405,428,450,465,478,480,510,545,570,590,625,642,648,660,675,675,650,625,600,585,590,605,640,665,662,660,640,610,580,565,560,567,593,613,623,633,653,670,687,697,687,663,630,613,587,570,540,525,512,512,517,520,483,467,453,427,427,402,410,400,377,363,353,337,323,317,313,303,283,270,250]
sample_x = [25,30,50,90,150,200,260,340,450,700,800,880,950,1010,1060,1090,1103,1105,1100,1085,1050,1000,960,900,807,700,450,340,285,233,190,100,60,35,25]
sample_y = [290,240,190,130,75,45,22,10,8,8,12,25,55,100,160,220,290,600,690,740,800,860,890,922,947,955,956,952,943,925,905,825,770,700,620]
crop_x = [385, 744]
crop_y = [320, 644]

# ---- legend
labels = ["柑橘样本", "水稻样本", "柑橘玉米混种样本", "休耕地样本", "玉米样本", "其他地物样本", "作物识别区域", "样本提取区域", "枝江市"]
colors = {"柑橘样本": "#A5671B", "水稻样本": "#5B84E0", "柑橘玉米混种样本": "#8FB3A0",
          "休耕地样本": "#DDBB8E", "玉米样本": "#EE4646", "其他地物样本": "#000000"}
dot_sizes = {"柑橘样本": 21, "水稻样本": 24, "休耕地样本": 26, "玉米样本": 18, "其他地物样本": 16}
scale_labels = ["10", "5", "0", "10"]


def sheet(points, origin):
    x0, y0 = origin
    return [(x0 + x / 3, y0 + y / 3) for x, y in points]


def smooth(xs, ys, rounds=3, closed=True):
    p = list(zip(xs, ys))
    for _ in range(rounds):
        q = [] if closed else [p[0]]
        n = len(p)
        for i in range(n if closed else n - 1):
            a, b = p[i], p[(i + 1) % n]
            q.append((0.75 * a[0] + 0.25 * b[0], 0.75 * a[1] + 0.25 * b[1]))
            q.append((0.25 * a[0] + 0.75 * b[0], 0.25 * a[1] + 0.75 * b[1]))
        p = q
    return p


brown = sheet(brown_mid, SHEET_MID) + sheet(brown_s, SHEET_S) + brown_map
tan = (sheet(tan_nw, SHEET_NW) + sheet(tan_n, SHEET_N) + sheet(tan_mid, SHEET_MID) + sheet(tan_s, SHEET_S)
       + sheet(tan_w, SHEET_W) + sheet(tan_se, SHEET_SE) + tan_map)
red = (sheet(red_nw, SHEET_NW) + sheet(red_n, SHEET_N) + sheet(red_mid, SHEET_MID) + sheet(red_s, SHEET_S)
       + sheet(red_w, SHEET_W) + sheet(red_sw, SHEET_SW) + sheet(red_south, SHEET_SOUTH)
       + sheet(red_e, SHEET_E) + sheet(red_se, SHEET_SE) + red_map)
black = (sheet(black_nw, SHEET_NW) + sheet(black_n, SHEET_N) + sheet(black_mid, SHEET_MID) + sheet(black_s, SHEET_S)
         + sheet(black_w, SHEET_W) + sheet(black_sw, SHEET_SW) + sheet(black_south, SHEET_SOUTH)
         + sheet(black_e, SHEET_E) + sheet(black_se, SHEET_SE) + black_map)
blue = sheet(blue_nw, SHEET_NW) + sheet(blue_n, SHEET_N) + sheet(blue_mid, SHEET_MID) + sheet(blue_s, SHEET_S) + blue_map

frames = []
for name, pts in [("柑橘样本", brown), ("休耕地样本", tan), ("玉米样本", red), ("其他地物样本", black), ("水稻样本", blue)]:
    frames.append(pd.DataFrame({"x": [p[0] for p in pts], "y": [p[1] for p in pts], "kind": name}))
samples = pd.concat(frames, ignore_index=True)

sns.set_theme(style="white")
plt.rcParams["font.family"] = ["Noto Sans CJK SC", "DejaVu Sans"]

fig = plt.figure(figsize=(11.08, 9.70), dpi=100)
ax = fig.add_axes([0, 0, 1, 1])
ax.set_xlim(0, 1108)
ax.set_ylim(970, 0)
ax.axis("off")

ax.add_patch(Polygon(smooth(region_x, region_y, 2), closed=True, fc="#ADADAD", ec="none", zorder=1))

sns.scatterplot(data=samples, x="x", y="y", hue="kind", palette=colors, size="kind", sizes=dot_sizes,
                linewidth=0, legend=False, ax=ax, zorder=2)

ax.add_patch(Rectangle((crop_x[0], crop_y[0]), crop_x[1] - crop_x[0], crop_y[1] - crop_y[0],
                       fc="none", ec="black", lw=2.0, zorder=3))
boundary = smooth(sample_x, sample_y, 3)
ax.plot([p[0] for p in boundary] + [boundary[0][0]], [p[1] for p in boundary] + [boundary[0][1]],
        color="black", lw=2.2, ls=(0, (4.4, 3.0)), zorder=3)

# north arrow
ax.add_patch(Polygon([(69, 35), (49, 102), (69, 78)], closed=True, fc="black", ec="black", lw=0.8, zorder=4))
ax.add_patch(Polygon([(69, 35), (89, 102), (69, 78)], closed=True, fc="white", ec="black", lw=1.2, zorder=4))
ax.text(69, 19, "N", ha="center", va="center", fontsize=19, family=["Liberation Sans"], color="black")

# scale bar
ax.add_patch(Rectangle((14, 946), 208, 18, fc="black", ec="none", zorder=4))
ax.add_patch(Rectangle((41, 948), 24, 14, fc="white", ec="none", zorder=5))
ax.add_patch(Rectangle((93, 948), 24, 14, fc="white", ec="none", zorder=5))
for xpos, lab in zip([18, 68, 120, 224], scale_labels):
    ax.text(xpos, 937, lab, ha="center", va="center", fontsize=14, family=["Liberation Serif"], color="#222222")
ax.text(252, 957, "千米", ha="center", va="center", fontsize=12.6, color="#333333")

# legend
handles = [Line2D([], [], ls="", marker="o", ms=3.6, mfc=colors[k], mec="none") for k in labels[:6]]
handles.append(Patch(fc="white", ec="black", lw=2.4))
handles.append(Patch(fc="white", ec="black", lw=2.0, ls=(0, (2.6, 2.4))))
handles.append(Patch(fc="#ADADAD", ec="none"))
leg = ax.legend(handles, labels, loc="upper left", bbox_to_anchor=(720, 666), bbox_transform=ax.transData,
                frameon=False, fontsize=16.4, labelspacing=0.2, handlelength=1.1, handleheight=0.75,
                handletextpad=0.22, borderpad=0, borderaxespad=0, title="图例", alignment="left",
                title_fontproperties={"family": ["Noto Sans CJK SC"], "weight": "bold", "size": 15})
for t in leg.get_texts():
    t.set_color("#2a2a2a")

fig.savefig("out.png", dpi=100, facecolor="white")
